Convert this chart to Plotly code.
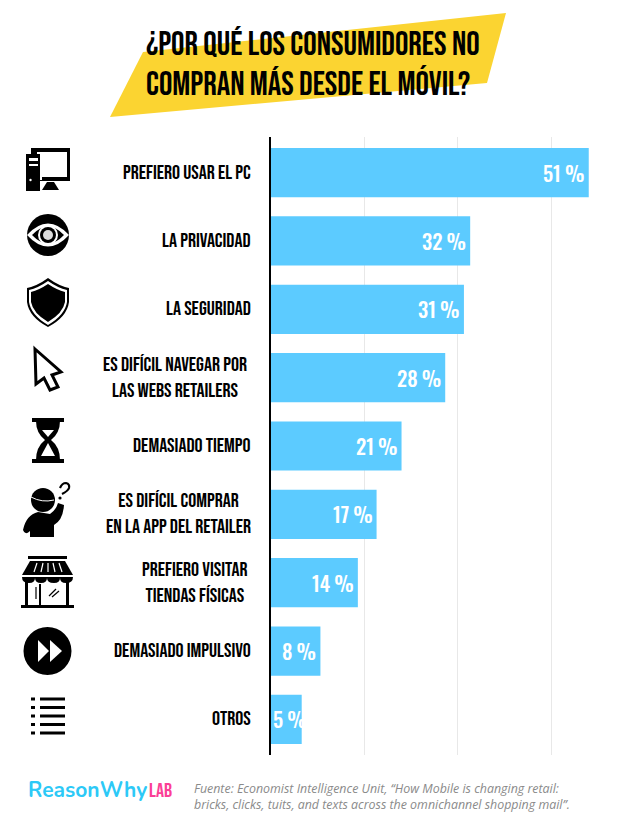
import plotly.graph_objects as go

# data
categories = ['PREFIERO USAR EL PC', 'LA PRIVACIDAD', 'LA SEGURIDAD',
              'ES DIFÍCIL NAVEGAR POR<br>LAS WEBS RETAILERS', 'DEMASIADO TIEMPO',
              'ES DIFÍCIL COMPRAR<br>EN LA APP DEL RETAILER',
              'PREFIERO VISITAR<br>TIENDAS FÍSICAS', 'DEMASIADO IMPULSIVO', 'OTROS']
values = [51, 32, 31, 28, 21, 17, 14, 8, 5]
title_lines = ['¿POR QUÉ LOS CONSUMIDORES NO', 'COMPRAN MÁS DESDE EL MÓVIL?']
source_text = ('Fuente: Economist Intelligence Unit, “How Mobile is changing retail:<br>'
               'bricks, clicks, tuits, and texts across the omnichannel shopping mail”.')

W, H = 619, 826
PAD = 8  # the page body keeps its default margin
FW, FH = W - PAD, H - PAD
BLUE = '#5ccbff'
YELLOW = '#fbd431'
HEAD = 'Bebas Neue, Oswald, Liberation Sans'
NUM = 'Oswald, Liberation Sans'
NONE = 'rgba(0,0,0,0)'

shapes = []


# little helpers for the decoration, everything in page pixels (x2/y2)
def path(d, fill='black', line=None, width=0, layer='above'):
    shapes.append(dict(type='path', path=d, xref='x2', yref='y2', layer=layer,
                       fillcolor=fill, line=dict(color=line or NONE, width=width)))


def box(x0, y0, x1, y1, fill='black'):
    shapes.append(dict(type='rect', x0=x0, y0=y0, x1=x1, y1=y1, xref='x2', yref='y2',
                       layer='above', fillcolor=fill, line=dict(width=0)))


def circle(cx, cy, r, fill='black'):
    shapes.append(dict(type='circle', x0=cx - r, y0=cy - r, x1=cx + r, y1=cy + r, xref='x2', yref='y2',
                       layer='above', fillcolor=fill, line=dict(width=0)))


# yellow banner behind the title
path('M143,52 L506,13 L487,83 L110,117 Z', fill=YELLOW, layer='below')

# pc
box(31, 148, 70, 181)
box(37, 152, 67, 177, 'white')
path('M42,190 L47,182 H54 L59,190 Z')
box(26, 154, 40, 191)
box(40, 154, 42, 180, 'white')
box(29, 158, 38, 161, 'white')
box(29, 164, 38, 166, 'white')
circle(30.5, 180, 1.2, 'white')

# eye
circle(48, 235, 21)
path('M27,235 Q48,212 69,235 Q48,258 27,235 Z', fill='white')
path('M32,235 Q48,218 64,235 Q48,252 32,235 Z')
circle(48, 235, 10, 'white')
circle(48, 235, 8)
circle(48, 235, 5, '#dddddd')

# shield
path('M48,278 Q59,286 69,288 V302 Q67,317 48,327 Q29,317 27,302 V288 Q37,286 48,278 Z')
path('M48,281 Q58,288 67,290 V302 Q65,315 48,325 Q31,315 29,302 V290 Q38,288 48,281 Z', fill='white')
path('M48,284 Q57,290 65,292 V302 Q63,313 48,322 Q33,313 31,302 V292 Q39,290 48,284 Z')

# cursor
path('M35,349 L61,372 L52,375 L58,387 L50,390 L44,378 L36,384 Z', fill='white', line='black', width=3)

# hourglass
box(32, 418, 64, 422)
box(32, 459, 64, 463)
path('M36,421 H60 Q60,433 51,440 Q60,447 60,460 H36 Q36,447 45,440 Q36,433 36,421 Z')
path('M42,430 H54 L48,437 Z', fill='white')
path('M48,443 L55,456 H41 Z', fill='white')

# person with question mark
circle(43, 500, 12)
path('M31,497 Q42,503 54,500', fill=NONE, line='white', width=1)
path('M23,530 Q26,515 38,512 L50,514 Q56,510 58,503 L64,505 Q63,520 54,525 V537 H30 V531 Q25,536 23,530 Z')
path('M60,488 Q62,483 66,483 Q70,484 69,488 Q68,491 62,494', fill=NONE, line='black', width=2.2)
circle(60, 498, 1.6)

# store
box(28, 556, 67, 559)
path('M30,561 H65 L73,575 H22 Z')
for d in ['M34,572 L37,563', 'M41,572 L43,563', 'M48,572 V563', 'M55,572 L53,563', 'M62,572 L59,563']:
    path(d, fill=NONE, line='white', width=1.2)
path('M22,577 H73 Q73,583 66,583 Q60,583 60,578 Q60,583 54,583 Q47,583 47,578 '
     'Q47,583 41,583 Q35,583 35,578 Q35,583 29,583 Q22,583 22,577 Z')
box(25, 580, 28, 606)
box(39, 584, 41, 606)
box(66, 580, 69, 606)
box(21, 605, 74, 608)
path('M36,587 V599', fill=NONE, line='black', width=1.2)
for d in ['M49,596 L56,589', 'M52,597 L59,591']:
    path(d, fill=NONE, line='black', width=1.2)

# fast forward
circle(47.5, 651, 24)
path('M38,640 V662 L49,651 Z', fill='white')
path('M50,640 V662 L62,651 Z', fill='white')

# list
for y in [699, 707.5, 716, 724.5, 733]:
    box(31, y - 1.5, 35, y + 1.5)
    box(40, y - 1.5, 65, y + 1.5)

# label x offset for the two centred blocks that sit a bit further left
label_shift = {3: -22, 6: -22}

annotations = []
for i, c in enumerate(categories):
    annotations.append(dict(x=0, y=c, xref='x', yref='y', xanchor='right', xshift=label_shift.get(i, -18),
                            text=c, showarrow=False, align='center',
                            font=dict(family=HEAD, size=20, color='black')))
    # value labels as annotations: in the original the 5 % runs past its bar, plotly's inside text clips left
    annotations.append(dict(x=values[i], y=c, xref='x', yref='y', xanchor='right',
                            xshift=7 if values[i] < 6 else -2, text=f'{values[i]}\u2009%', showarrow=False,
                            font=dict(family=NUM, size=20.5, weight=500, color='white')))

for line, y in zip(title_lines, [45, 85]):
    annotations.append(dict(x=144, y=y, xref='x2', yref='y2', xanchor='left', text=line, showarrow=False,
                            font=dict(family=HEAD, size=33.5, color='black')))

annotations += [
    dict(x=26, y=790, xref='x2', yref='y2', xanchor='left', text='<b>ReasonWhy</b>', showarrow=False,
         font=dict(family='Nunito, Lato', size=21, color='#2cc9f7')),
    dict(x=147, y=791, xref='x2', yref='y2', xanchor='left', text='LAB', showarrow=False,
         font=dict(family=HEAD, size=20, color='#fb3f96')),
    dict(x=191.5, y=796.5, xref='x2', yref='y2', xanchor='left', text='<i>' + source_text + '</i>',
         showarrow=False, align='left', font=dict(family='Open Sans', size=12.4, color='#8a8a8a')),
]

fig = go.Figure(go.Bar(x=values, y=categories, orientation='h', marker=dict(color=BLUE, line=dict(width=0)),
                       hoverinfo='skip'))

fig.update_layout(
    width=FW, height=FH, margin=dict(l=0, r=0, t=0, b=0), paper_bgcolor='white', plot_bgcolor=NONE,
    showlegend=False, bargap=0.28, shapes=shapes, annotations=annotations,
    xaxis=dict(domain=[(270.5 - PAD) / FW, (610.5 - PAD) / FW], range=[0, 340 / 6.24], dtick=15,
               showticklabels=False, ticks='', showgrid=True, gridcolor='#e8e8e8', gridwidth=1,
               zeroline=False, showline=False),
    yaxis=dict(domain=[1 - (755 - PAD) / FH, 1 - (137 - PAD) / FH], range=[8.52, -0.52], showticklabels=False,
               ticks='', showgrid=False, zeroline=False, showline=True, linecolor='black', linewidth=1.5),
    xaxis2=dict(domain=[0, 1], range=[PAD, W], visible=False, anchor='y2', fixedrange=True),
    yaxis2=dict(domain=[0, 1], range=[H, PAD], visible=False, anchor='x2', fixedrange=True),
)

fig.write_html("out.html")
